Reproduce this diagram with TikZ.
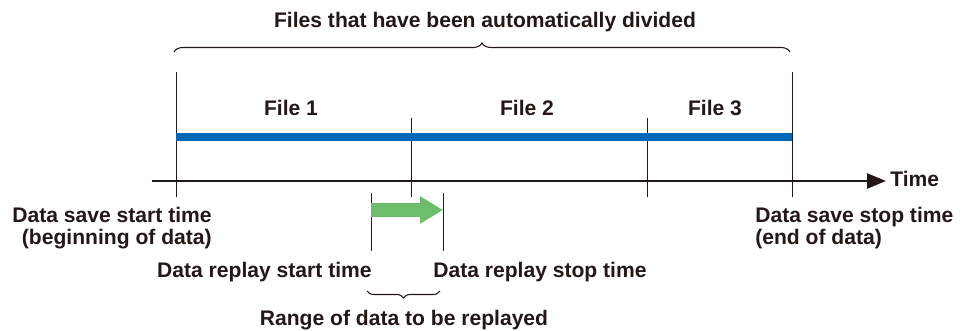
\documentclass[tikz,border=0pt]{standalone}
\usepackage{fontspec}
\setmainfont{Liberation Sans}
\usetikzlibrary{arrows.meta,decorations.pathreplacing}
\definecolor{inkdark}{RGB}{35,24,21}
\definecolor{filebar}{RGB}{0,104,183}
\definecolor{replaygreen}{RGB}{108,190,106}
\tikzset{
    lbl/.style={
        font=\bfseries\fontsize{12pt}{13pt}\selectfont,
        text=inkdark,
        inner sep=0pt
    },
    tick/.style={draw=inkdark, line width=0.5pt},
    bracedraw/.style={draw=inkdark, line width=0.6pt, decorate}
}
\begin{document}
\begin{tikzpicture}[x=0.02cm, y=-0.02cm]
            \useasboundingbox (0,0) rectangle (965,331);

            \node[
                lbl,
                anchor=base,
                name=title
            ] at (485,28) {Files that have been automatically divided};
            \node[
                lbl,
                anchor=base,
                name=file1
            ] at (291,116) {File 1};
            \node[
                lbl,
                anchor=base,
                name=file2
            ] at (527,116) {File 2};
            \node[
                lbl,
                anchor=base,
                name=file3
            ] at (715,116) {File 3};
            \node[
                lbl,
                anchor=base west,
                name=time
            ] at (890,187) {Time};
            \node[
                lbl,
                anchor=base east,
                align=right,
                name=savestart
            ] at (212,245) {Data save start time\\(beginning of data)};
            \node[
                lbl,
                anchor=base west,
                align=left,
                name=savestop
            ] at (755,245) {Data save stop time\\(end of data)};
            \node[
                lbl,
                anchor=base east,
                name=replaystart
            ] at (372,277) {Data replay start time};
            \node[
                lbl,
                anchor=base west,
                name=replaystop
            ] at (433,277) {Data replay stop time};
            \node[
                lbl,
                anchor=base,
                name=range
            ] at (404,326) {Range of data to be replayed};

            \coordinate (S0) at (176,72);
            \coordinate (S1) at (176,197);
            \coordinate (D0) at (411,118);
            \coordinate (D1) at (411,197);
            \coordinate (E0) at (647,118);
            \coordinate (E1) at (647,197);
            \coordinate (T0) at (792,72);
            \coordinate (T1) at (792,197);
            \coordinate (R0) at (371,193);
            \coordinate (R1) at (371,251);
            \coordinate (Q0) at (443,193);
            \coordinate (Q1) at (443,251);

            \draw[tick] (S0) -- (S1);
            \draw[tick] (D0) -- (D1);
            \draw[tick] (E0) -- (E1);
            \draw[tick] (T0) -- (T1);
            \draw[tick] (R0) -- (R1);
            \draw[tick] (Q0) -- (Q1);

            \draw[filebar, line width=0.16cm] (S0 |- 0,137) -- (T0 |- 0,137);

            \coordinate (axisL) at (152,181);
            \coordinate (axisR) at (886,181);
            \draw[inkdark, line width=0.05cm, -{Triangle[length=0.38cm,width=0.3cm]}]
                (axisL) -- (axisR);

            \draw[replaygreen, line width=0.28cm, -{Triangle[length=0.46cm,width=0.52cm]}]
                (R0 |- 0,210) -- (Q0 |- 0,210);

            \coordinate (braceL) at (174,52);
            \coordinate (braceR) at (790,52);
            \draw[bracedraw, decoration={brace, amplitude=0.18cm}] (braceL) -- (braceR);

            \coordinate (rangeR) at (440,291);
            \coordinate (rangeL) at (367,291);
            \draw[bracedraw, decoration={brace, amplitude=0.14cm}] (rangeR) -- (rangeL);
        \end{tikzpicture}
\end{document}
